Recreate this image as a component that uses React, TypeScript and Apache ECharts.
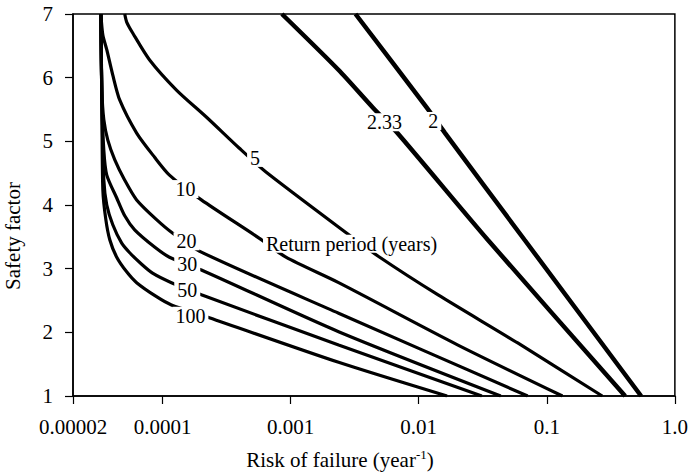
import React, { useEffect, useRef } from 'react';
import * as echarts from 'echarts';

// Axis ticks
const xTickValues = [0.00002, 0.0001, 0.001, 0.01, 0.1, 1];
const xTickLabels = ['0.00002', '0.0001', '0.001', '0.01', '0.1', '1.0'];

// Curves: [risk of failure (1/yr), safety factor], one per return period (years)
const curve2 = [[3.21e-3, 7], [1.144e-2, 5.54], [1.606e-2, 5.13], [6.72e-2, 3.45], [0.545, 1]];
const curve233 = [[8.55e-4, 7], [2.37e-3, 6.12], [4.43e-3, 5.52], [6.69e-3, 5.15], [3.47e-2, 3.45], [0.409, 1]];
const curve5 = [[5.07e-5, 7], [5.25e-5, 6.874], [5.85e-5, 6.702], [7.93e-5, 6.278], [1.285e-4, 5.806], [2.197e-4, 5.382], [3.96e-4, 4.895], [6.42e-4, 4.518], [2.73e-3, 3.56], [4.93e-3, 3.183], [1.418e-2, 2.587], [5.93e-2, 1.833], [0.271, 1]];
const curve10 = [[3.30e-5, 7], [3.42e-5, 6.67], [3.67e-5, 6.44], [4.09e-5, 6.04], [4.63e-5, 5.65], [6.28e-5, 5.13], [8.67e-5, 4.75], [1.133e-4, 4.47], [2.01e-4, 4.08], [5.67e-4, 3.48], [9.19e-4, 3.18], [2.37e-3, 2.78], [2.026e-2, 1.8], [0.1325, 1]];
const curve20 = [[3.30e-5, 7], [3.36e-5, 5.81], [3.48e-5, 5.34], [3.74e-5, 5.02], [4.24e-5, 4.71], [5.07e-5, 4.39], [6.28e-5, 4.08], [8.98e-5, 3.77], [1.196e-4, 3.56], [2.01e-4, 3.26], [2.37e-3, 2.3], [7.09e-2, 1]];
const curve30 = [[3.30e-5, 7], [3.36e-5, 5.65], [3.48e-5, 4.86], [3.67e-5, 4.47], [4.39e-5, 4.11], [5.07e-5, 3.83], [6.06e-5, 3.61], [8.67e-5, 3.34], [1.133e-4, 3.18], [2.01e-4, 2.98], [2.37e-3, 2.01], [4.37e-2, 1]];
const curve50 = [[3.30e-5, 7], [3.36e-5, 5.65], [3.48e-5, 4.39], [3.67e-5, 4.0], [4.09e-5, 3.69], [4.8e-5, 3.4], [5.54e-5, 3.25], [6.87e-5, 3.07], [8.36e-5, 2.93], [1.174e-4, 2.78], [2.01e-4, 2.59], [2.37e-3, 1.8], [3.11e-2, 1]];
const curve100 = [[3.30e-5, 7], [3.36e-5, 5.65], [3.42e-5, 4.24], [3.61e-5, 3.77], [3.88e-5, 3.45], [4.39e-5, 3.18], [5.25e-5, 2.95], [6.28e-5, 2.78], [8.98e-5, 2.56], [1.174e-4, 2.43], [2.32e-4, 2.23], [2.37e-3, 1.53], [1.665e-2, 1]];

const thickCurves = [curve2, curve233];
const thinCurves = [curve5, curve10, curve20, curve30, curve50, curve100];

// Curve annotations: [risk, safety factor, text]
const curveLabels = [
  [1.30e-2, 5.32, '2'],
  [5.40e-3, 5.30, '2.33'],
  [5.28e-4, 4.74, '5'],
  [1.51e-4, 4.25, '10'],
  [1.54e-4, 3.43, '20'],
  [1.56e-4, 3.08, '30'],
  [1.56e-4, 2.665, '50'],
  [1.65e-4, 2.26, '100'],
  [2.99e-3, 3.39, 'Return period (years)'],
];

const FONT = 'Liberation Serif';

export default function App() {
  const ref = useRef<HTMLDivElement>(null);
  useEffect(() => {
    document.body.style.margin = '0';
    const chart = echarts.init(ref.current!, null, { renderer: 'svg' });
    const lineSeries = (data: number[][], width: number) => ({
      type: 'line',
      data,
      showSymbol: false,
      symbol: 'none',
      smooth: 0.25,
      lineStyle: { color: '#000', width },
      z: 2,
    });
    chart.setOption({
      animation: false,
      backgroundColor: '#fff',
      textStyle: { fontFamily: FONT },
      grid: { left: 73, right: 13, top: 14, bottom: 76, show: true, borderColor: '#000', borderWidth: 1.5 },
      xAxis: {
        type: 'log',
        logBase: 10,
        min: xTickValues[0],
        max: xTickValues[xTickValues.length - 1],
        axisLine: { lineStyle: { color: '#000', width: 1.5 } },
        axisTick: { show: true, length: 8, lineStyle: { color: '#000', width: 1.2 } },
        splitLine: { show: false },
        minorTick: { show: false },
        axisLabel: {
          showMinLabel: true,
          showMaxLabel: true,
          margin: 20,
          color: '#000',
          fontSize: 21,
          fontFamily: FONT,
          formatter: (v: number) => {
            let best = 0;
            let bd = Infinity;
            xTickValues.forEach((t, i) => {
              const d = Math.abs(Math.log10(t) - Math.log10(v));
              if (d < bd) { bd = d; best = i; }
            });
            return xTickLabels[best];
          },
        },
      },
      yAxis: {
        type: 'value',
        min: 1,
        max: 7,
        interval: 1,
        axisLine: { show: true, lineStyle: { color: '#000', width: 1.5 } },
        axisTick: { show: true, length: 8, lineStyle: { color: '#000', width: 1.2 } },
        splitLine: { show: false },
        axisLabel: { margin: 20, color: '#000', fontSize: 21, fontFamily: FONT },
      },
      graphic: [
        {
          type: 'text',
          x: 340,
          y: 460,
          style: {
            text: 'Risk of failure (year{sup|-1})',
            fill: '#000',
            fontSize: 21,
            fontFamily: FONT,
            align: 'center',
            verticalAlign: 'middle',
            lineHeight: 24,
            rich: { sup: { fontSize: 13, fontFamily: FONT, verticalAlign: 'top', lineHeight: 13, fill: '#000' } },
          },
        },
        {
          type: 'text',
          x: 13,
          y: 236,
          rotation: Math.PI / 2,
          style: {
            text: 'Safety factor',
            fill: '#000',
            fontSize: 21,
            fontFamily: FONT,
            align: 'center',
            verticalAlign: 'middle',
          },
        },
      ],
      series: [
        ...thickCurves.map((c) => lineSeries(c, 4.5)),
        ...thinCurves.map((c) => lineSeries(c, 3.2)),
        {
          type: 'scatter',
          data: curveLabels,
          symbolSize: 1,
          itemStyle: { color: 'transparent', opacity: 1 },
          emphasis: { disabled: true },
          z: 10,
          label: {
            show: true,
            position: 'inside',
            formatter: (p: any) => p.data[2],
            color: '#000',
            opacity: 1,
            fontSize: 20,
            fontFamily: FONT,
            textBorderWidth: 0,
            textBorderColor: 'transparent',
            backgroundColor: '#fff',
            lineHeight: 18,
            padding: [0, 3],
          },
        },
      ],
    });
    return () => chart.dispose();
  }, []);
  return <div ref={ref} style={{ width: 691, height: 472 }} />;
}
